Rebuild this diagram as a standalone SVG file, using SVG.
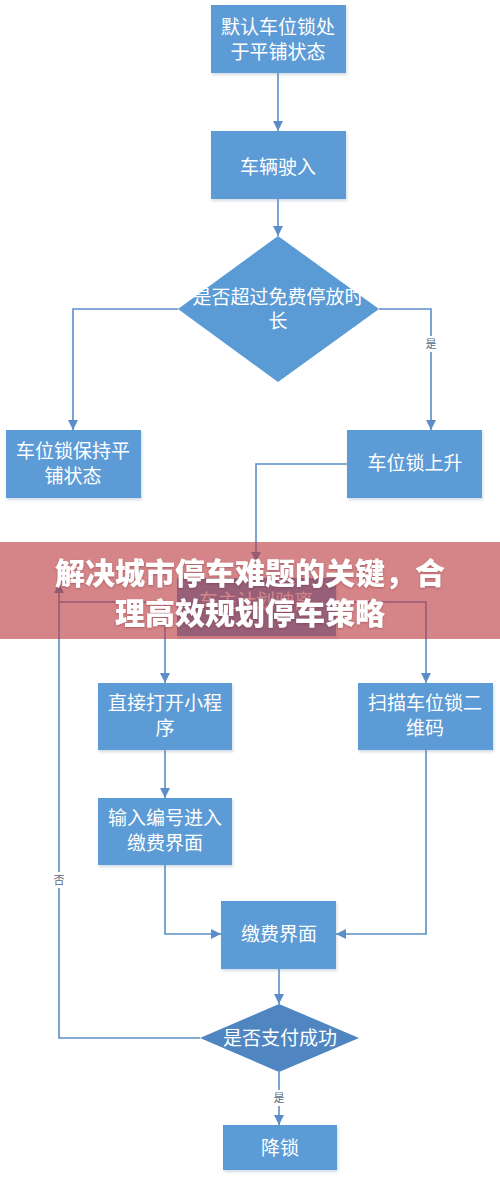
<svg xmlns="http://www.w3.org/2000/svg" width="500" height="1182" viewBox="0 0 500 1182">
<defs>
<marker id="ah" viewBox="0 0 10 10" refX="10" refY="5" markerWidth="10" markerHeight="10" markerUnits="userSpaceOnUse" orient="auto"><path d="M0,0 L10,5 L0,10 z" fill="#5b8ec8"/></marker>
<filter id="sh" x="-10%" y="-10%" width="130%" height="130%"><feDropShadow dx="1" dy="2" stdDeviation="1.5" flood-color="#7f95ad" flood-opacity="0.35"/></filter>
<filter id="ts" x="-5%" y="-20%" width="110%" height="140%"><feDropShadow dx="0" dy="1" stdDeviation="1" flood-color="#6a2a2e" flood-opacity="0.4"/></filter>
</defs>
<style>
.box{fill:#5b9bd5;filter:url(#sh)}
.dia{fill:#5b9bd5}
.dia2{fill:#4f86c2}
.t{font-family:"Liberation Sans","Noto Sans CJK SC",sans-serif;font-size:19px;fill:#ffffff;text-anchor:middle}
.e{fill:none;stroke:#5b8ec8;stroke-width:1.6}
.a{marker-end:url(#ah)}
.lbg{fill:#ffffff}
.lbl{font-family:"Liberation Sans","Noto Sans CJK SC",sans-serif;font-size:11px;fill:#5a6b82;text-anchor:middle}
.bn{font-family:"Noto Sans CJK SC",sans-serif;font-weight:900;font-size:30px;fill:#ffffff;text-anchor:middle;filter:url(#ts)}
</style>

<g id="connectors">
<path class="e a" d="M278,73 V131"/>
<path class="e a" d="M278,199 V236"/>
<path class="e a" d="M178,309 H73 V430"/>
<path class="e a" d="M379,309 H431 V430"/>
<path class="e a" d="M347,464 H256 V562"/>
<path class="e a" d="M200,1038 H59 V583"/>
<path class="e a" d="M59,602 H165 V683"/>
<path class="e a" d="M336,602 H426 V683"/>
<path class="e a" d="M165,750 V798"/>
<path class="e a" d="M165,865 V934 H221"/>
<path class="e a" d="M426,750 V934 H336"/>
<path class="e a" d="M279,969 V1004"/>
<path class="e a" d="M279,1072 V1125"/>
<rect class="lbg" x="424" y="336" width="14" height="16"/>
<text class="lbl" x="431" y="348">是</text>
<rect class="lbg" x="52" y="872" width="14" height="16"/>
<text class="lbl" x="59" y="884">否</text>
<rect class="lbg" x="272" y="1090" width="14" height="16"/>
<text class="lbl" x="279" y="1102">是</text>
</g>

<g id="n1"><rect class="box" x="211" y="5" width="135" height="68"/><text class="t" x="278" y="34">默认车位锁处</text><text class="t" x="278" y="59">于平铺状态</text></g>
<g id="n2"><rect class="box" x="211" y="131" width="135" height="68"/><text class="t" x="278" y="174">车辆驶入</text></g>
<g id="d1"><polygon class="dia" points="278,236 379,309 278,382 178,309"/><text class="t" x="278" y="304">是否超过免费停放时</text><text class="t" x="278" y="328">长</text></g>
<g id="n3"><rect class="box" x="6" y="430" width="135" height="68"/><text class="t" x="73" y="458">车位锁保持平</text><text class="t" x="73" y="483">铺状态</text></g>
<g id="n4"><rect class="box" x="347" y="430" width="135" height="68"/><text class="t" x="415" y="470">车位锁上升</text></g>
<g id="n5"><rect class="box" x="177" y="578" width="159" height="58"/><text class="t" x="256" y="608">车主计划驶离</text></g>
<g id="n6"><rect class="box" x="98" y="683" width="134" height="67"/><text class="t" x="165" y="710">直接打开小程</text><text class="t" x="165" y="735">序</text></g>
<g id="n7"><rect class="box" x="358" y="683" width="135" height="67"/><text class="t" x="425" y="710">扫描车位锁二</text><text class="t" x="425" y="735">维码</text></g>
<g id="n8"><rect class="box" x="98" y="798" width="134" height="67"/><text class="t" x="165" y="825">输入编号进入</text><text class="t" x="165" y="850">缴费界面</text></g>
<g id="n9"><rect class="box" x="221" y="901" width="115" height="68"/><text class="t" x="279" y="941">缴费界面</text></g>
<g id="d2"><polygon class="dia2" points="279,1004 359,1038 279,1072 200,1038"/><text class="t" x="280" y="1045">是否支付成功</text></g>
<g id="n10"><rect class="box" x="223" y="1125" width="114" height="45"/><text class="t" x="280" y="1155">降锁</text></g>

<g id="banner">
<rect x="0" y="542" width="500" height="97" fill="rgb(187,58,63)" fill-opacity="0.62"/>
<text class="bn" x="250" y="584">解决城市停车难题的关键，合</text>
<text class="bn" x="250" y="624">理高效规划停车策略</text>
</g>
</svg>
